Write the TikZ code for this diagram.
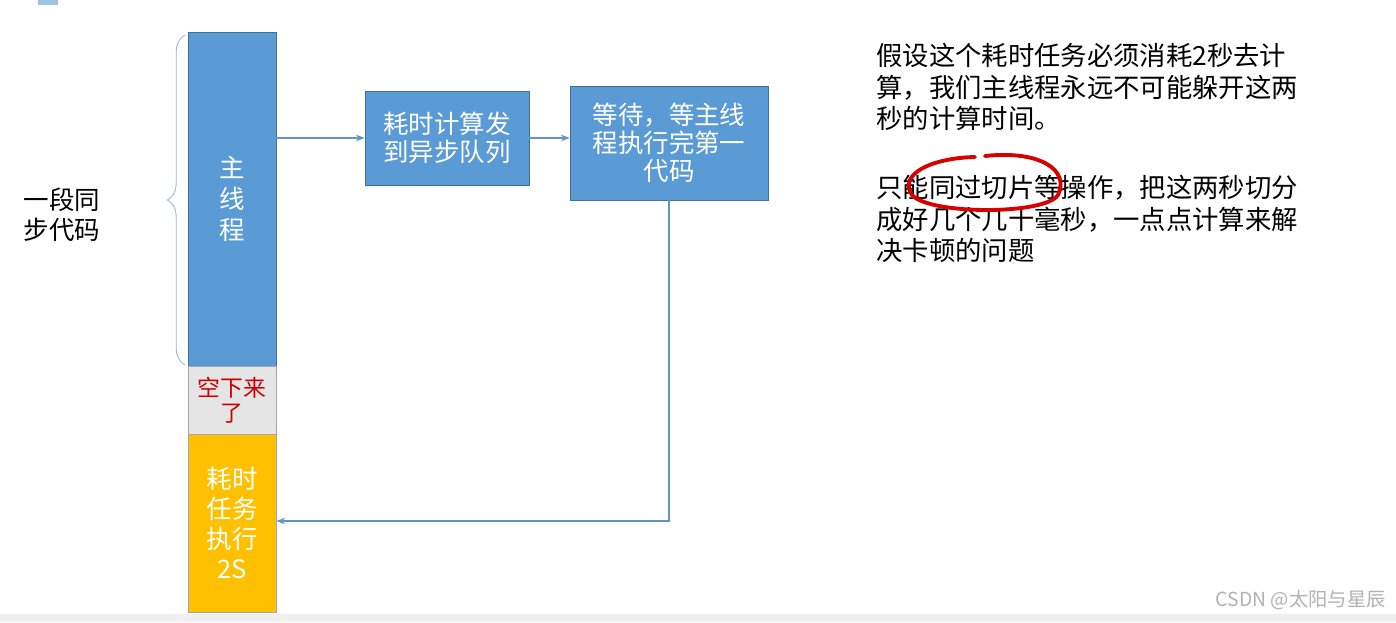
\documentclass[tikz,border=0pt]{standalone}
\usepackage{fontspec}
\setmainfont{Noto Sans CJK SC}
\usetikzlibrary{decorations.pathreplacing,arrows.meta}
\definecolor{mblue}{HTML}{5B9BD5}
\definecolor{bblue}{HTML}{41719C}
\definecolor{morange}{HTML}{FFC000}
\begin{document}
\begin{tikzpicture}[x=0.02cm,y=-0.02cm,
  bx/.style={draw=bblue,fill=mblue,text=white,align=center,font=\fontsize{14.5}{16}\selectfont,inner sep=0pt},
  conn/.style={draw=mblue!80!gray,line width=0.6pt,-{Stealth[length=5pt]}}]
\useasboundingbox[fill=white] (0,0) rectangle (1396,622);
\fill[gray!12] (0,614) rectangle (1396,622);
\fill[mblue!60] (38,0) rectangle (58,5);
\node[bx,font=\fontsize{14.5}{17.5}\selectfont,minimum width=88*0.02cm,minimum height=334*0.02cm] (main) at (232,199) {主\\线\\程};
\node[draw=gray!70,fill=gray!20,text=red!80!black,align=center,font=\fontsize{13}{14}\selectfont,inner sep=0pt,minimum width=88*0.02cm,minimum height=68*0.02cm] (idle) at (232,400) {空下来\\了};
\node[draw=gray!70,fill=morange,text=white,align=center,font=\fontsize{14.5}{17}\selectfont,inner sep=0pt,minimum width=88*0.02cm,minimum height=178*0.02cm] (task) at (232,523) {耗时\\任务\\执行\\2S};
\draw[decorate,decoration={brace,amplitude=10pt},draw=bblue!50,line width=0.5pt] (185,365) -- (185,35);
\node[align=left,font=\fontsize{14.5}{17}\selectfont] (sync) at (62,215) {一段同\\步代码};
\node[bx,minimum width=164*0.02cm,minimum height=94*0.02cm] (b1) at (447,138) {耗时计算发\\到异步队列};
\node[bx,minimum width=198*0.02cm,minimum height=114*0.02cm] (b2) at (669,143) {等待，等主线\\程执行完第一\\代码};
\coordinate (corner) at (669,521);
\draw[conn] (main.east|-b1.west) -- (b1.west);
\draw[conn] (b1.east) -- (b1.east-|b2.west);
\draw[conn] (b2.south) -- (corner) -- (corner-|task.east);
\node[anchor=north west,align=left,font=\fontsize{15}{18}\selectfont,inner sep=0pt] (txt) at (876,43) {假设这个耗时任务必须消耗2秒去计\\算，我们主线程永远不可能躲开这两\\秒的计算时间。\\[21pt]只能同过切片等操作，把这两秒切分\\成好几个几十毫秒，一点点计算来解\\决卡顿的问题};
\draw[red!85!black,line width=2.2pt,line cap=round] (985,156) .. controls (1040,150) and (1070,170) .. (1058,195) .. controls (1045,215) and (930,215) .. (912,195) .. controls (898,175) and (930,158) .. (975,157);
\node[anchor=east,text=gray!60,font=\fontsize{11}{13}\selectfont] (wm) at (1392,600) {CSDN @太阳与星辰};
\end{tikzpicture}
\end{document}
